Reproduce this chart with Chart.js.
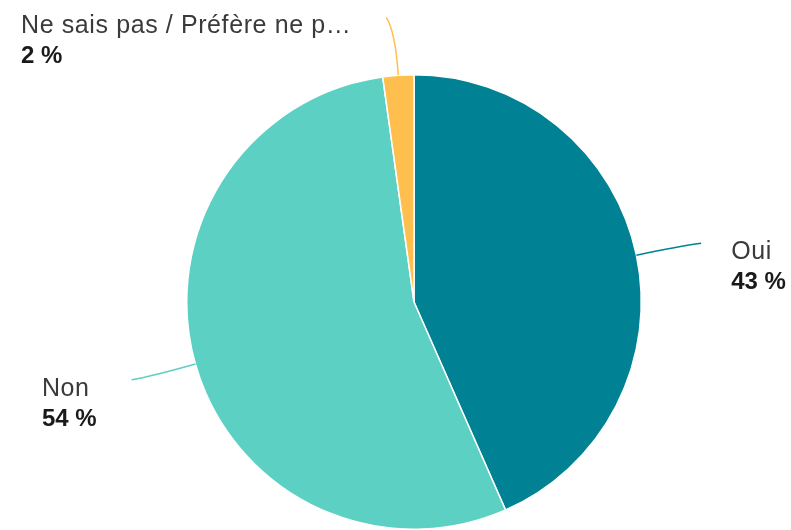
<!DOCTYPE html>
<html>
<head>
<meta charset="utf-8">
<script src="https://cdn.jsdelivr.net/npm/chart.js@4/dist/chart.umd.min.js"></script>
<style>
  html, body { margin: 0; padding: 0; background: #fff; }
  #wrap { width: 791px; height: 530px; }
</style>
</head>
<body>
<div id="wrap"><canvas id="pieChart" width="791" height="530"></canvas></div>
<script>
const categories = ["Oui", "Non", "Ne sais pas / Préfère ne p…"];
const shares = [43.4, 54.4, 2.2];
const sliceColors = ["#008294", "#5CD0C2", "#FFBF4F"];

const FONT = "'Liberation Sans', Arial, sans-serif";

// leader lines + two-line labels (name, bold percent)
const outerLabels = {
  id: "outerLabels",
  afterDatasetsDraw(chart) {
    const ctx = chart.ctx;
    const meta = chart.getDatasetMeta(0);
    meta.data.forEach((arc, i) => {
      const { x, y, outerRadius, startAngle, endAngle } = arc.getProps(["x", "y", "outerRadius", "startAngle", "endAngle"], true);
      const mid = (startAngle + endAngle) / 2;
      const cos = Math.cos(mid), sin = Math.sin(mid);
      const side = cos >= 0 ? 1 : -1;
      const p0 = { x: x + cos * outerRadius, y: y + sin * outerRadius };
      const c1 = { x: x + cos * (outerRadius + 44), y: y + sin * (outerRadius + 44) };
      const p1 = { x: x + cos * (outerRadius + 58) + side * 8, y: y + sin * (outerRadius + 58) };

      ctx.save();
      ctx.strokeStyle = sliceColors[i];
      ctx.lineWidth = 1.5;
      ctx.beginPath();
      ctx.moveTo(p0.x, p0.y);
      ctx.quadraticCurveTo(c1.x, c1.y, p1.x, p1.y);
      ctx.stroke();

      const name = categories[i];
      const pct = Math.round(shares[i]) + " %";
      ctx.textBaseline = "alphabetic";
      ctx.textAlign = "left";
      ctx.font = "25px " + FONT;
      ctx.letterSpacing = "0.6px";
      const wName = ctx.measureText(name).width;
      ctx.letterSpacing = "0px";
      ctx.font = "bold 24px " + FONT;
      const wPct = ctx.measureText(pct).width;
      const blockW = Math.max(wName, wPct);
      const tx = side > 0 ? p1.x + 30 : p1.x - 35 - blockW;

      ctx.fillStyle = "#3a3a3a";
      ctx.font = "25px " + FONT;
      ctx.letterSpacing = "0.6px";
      ctx.fillText(name, tx, p1.y + 16);
      ctx.letterSpacing = "0px";
      ctx.fillStyle = "#1a1a1a";
      ctx.font = "bold 24px " + FONT;
      ctx.fillText(pct, tx, p1.y + 46);
      ctx.restore();
    });
  }
};

new Chart(document.getElementById("pieChart"), {
  type: "pie",
  data: {
    labels: categories,
    datasets: [{
      data: shares,
      backgroundColor: sliceColors,
      borderColor: "#ffffff",
      borderWidth: 1.5
    }]
  },
  options: {
    responsive: false,
    animation: false,
    layout: { padding: { top: 74, bottom: 0, left: 100, right: 63 } },
    plugins: {
      legend: { display: false },
      tooltip: { enabled: false }
    }
  },
  plugins: [outerLabels]
});
</script>
</body>
</html>
